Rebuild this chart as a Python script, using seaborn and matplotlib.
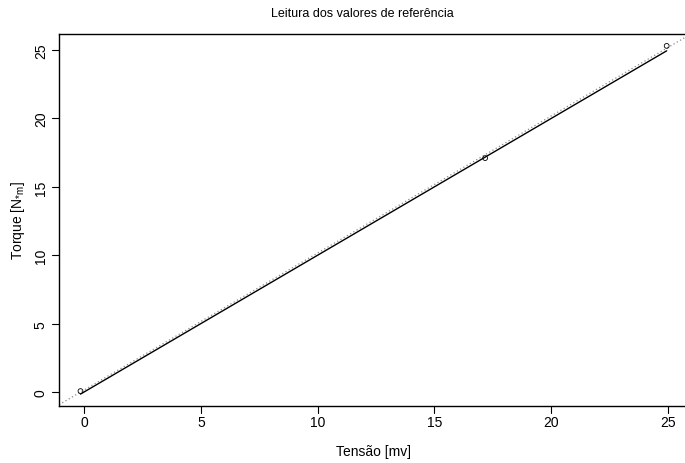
import matplotlib
matplotlib.use("Agg")
import matplotlib.pyplot as plt
import matplotlib.transforms as mtransforms
import seaborn as sns
import numpy as np
import pandas as pd

# Data
tensao = [-0.15, 17.17, 24.94]
torque = [0.07, 17.10, 25.30]
x_ticks = [0, 5, 10, 15, 20, 25]
y_ticks = [0, 5, 10, 15, 20, 25]

sns.set_style("ticks")
plt.rcParams['font.family'] = ['Liberation Sans', 'DejaVu Sans']
plt.rcParams.update({"text.color": "black", "axes.labelcolor": "black"})

df = pd.DataFrame({"Tensao": tensao, "Torque": torque})

fig = plt.figure(figsize=(6.85, 4.64), dpi=100)
ax = fig.add_axes([59/685, 57/464, 628/685, 372/464])
ax.set_xlim(-1.07, 25.81)
ax.set_ylim(-1.02, 26.17)

# regression line extended across the plot (dotted)
sns.regplot(data=df, x="Tensao", y="Torque", ax=ax, scatter=False, ci=None,
            truncate=False,
            line_kws=dict(color="#8a8a8a", linestyle=(0, (1, 2)), linewidth=0.9, zorder=1))

# identity line over the data range (solid)
sns.lineplot(x=[min(tensao), max(tensao)], y=[min(tensao), max(tensao)], ax=ax,
             color="black", linewidth=1.0, zorder=2)

# points
sns.scatterplot(data=df, x="Tensao", y="Torque", ax=ax, marker="o",
                s=12, facecolor="none", edgecolor="black", linewidth=0.6, zorder=3)

ax.set_xlim(-1.07, 25.81)
ax.set_ylim(-1.02, 26.17)
ax.set_xticks(x_ticks)
ax.set_yticks(y_ticks)
ax.set_xticklabels([str(v) for v in x_ticks])
ax.set_yticklabels([str(v) for v in y_ticks], rotation=90, va="center")

for s in ax.spines.values():
    s.set_visible(True)
    s.set_color("black")
    s.set_linewidth(1.0)

# tick marks drawn as plain line segments (outward, ~7 px)
ax.tick_params(axis="x", length=0, colors="black", labelsize=10, pad=6.5)
ax.tick_params(axis="y", length=0, colors="black", labelsize=10, pad=8)
tx = mtransforms.blended_transform_factory(ax.transData, ax.transAxes)
ty = mtransforms.blended_transform_factory(ax.transAxes, ax.transData)
for v in x_ticks:
    ax.plot([v, v], [0, -7/372], transform=tx, color="black", lw=0.8, clip_on=False)
for v in y_ticks:
    ax.plot([0, -7/628], [v, v], transform=ty, color="black", lw=0.8, clip_on=False)

ax.set_xlabel("Tensão [mv]", fontsize=10, labelpad=11)
ax.set_ylabel(r"Torque [N$_{\mathregular{*m}}$]", fontsize=10, labelpad=5)
fig.text(362/685, 1 - 14/464, "Leitura dos valores de referência", ha="center", va="center", fontsize=9)

fig.savefig("out.png", dpi=100)
